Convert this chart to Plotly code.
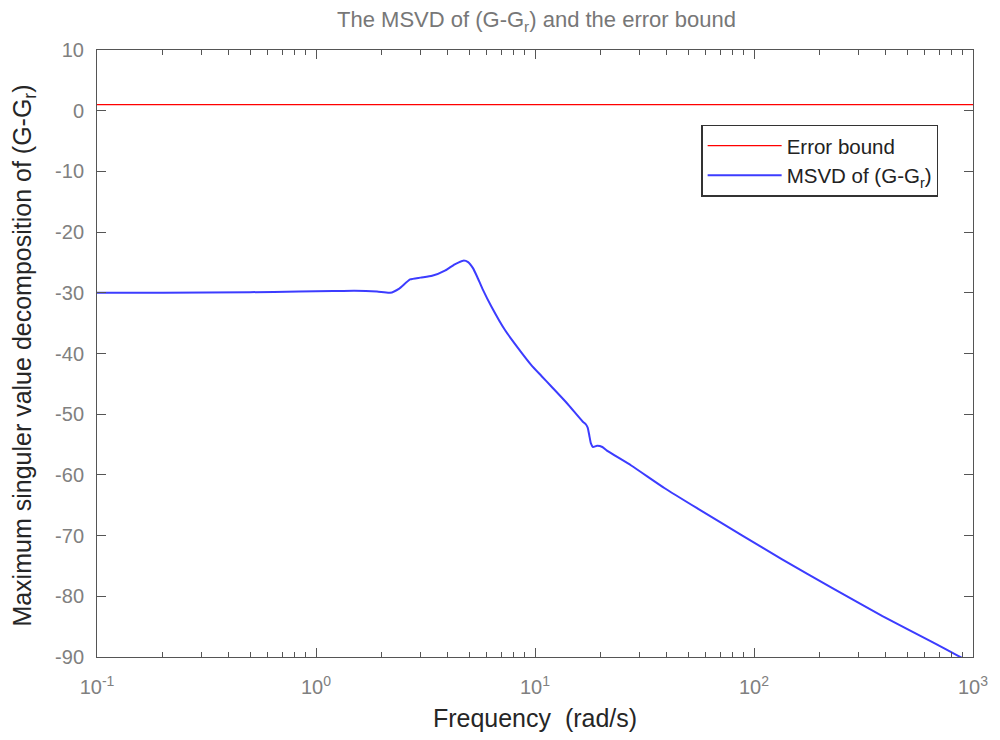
import plotly.graph_objects as go

freq = [0.1, 0.2, 0.5, 0.835, 1.2, 1.5, 1.9, 2.18, 2.4, 2.69, 3.0, 3.39, 3.9, 4.3,
        4.71, 4.95, 5.2, 5.45, 5.75, 6.33, 7.28, 8.37, 9.62, 10.7, 11.85, 14.0,
        16.5, 17.0, 17.4, 17.7, 18.0, 18.4, 19.2, 20.3, 21.3, 27.5, 39.1, 55.6,
        88.1, 134.4, 228, 386, 656, 855, 1000]
msvd_db = [-30.0, -30.0, -29.9, -29.8, -29.7, -29.65, -29.8, -30.0, -29.3, -27.8,
           -27.5, -27.2, -26.3, -25.3, -24.7, -24.95, -25.9, -27.4, -29.3, -32.3,
           -36.1, -39.1, -41.9, -43.7, -45.4, -48.2, -51.2, -51.6, -52.2, -53.5,
           -54.8, -55.4, -55.2, -55.4, -56.0, -58.45, -62.2, -65.6, -69.95, -73.9,
           -78.65, -83.25, -87.6, -89.8, -91.1]
bound_freq = [0.1, 1000]
bound_db = [1.0, 1.0]

x_tickvals = [0.1, 1, 10, 100, 1000]
x_ticktext = ["10<sup>-1</sup>", "10<sup>0</sup>", "10<sup>1</sup>", "10<sup>2</sup>", "10<sup>3</sup>"]
minor_vals = [m * d for d in [0.1, 1, 10, 100] for m in range(2, 10)]
y_tickvals = list(range(-90, 11, 10))
y_ticktext = [str(v) for v in y_tickvals]

fig = go.Figure()
fig.add_trace(go.Scatter(x=bound_freq, y=bound_db, mode="lines", name="Error bound",
                         line=dict(color="#ff0000", width=1.3)))
fig.add_trace(go.Scatter(x=freq, y=msvd_db, mode="lines", name="MSVD of (G-G<sub>r</sub>)",
                         line=dict(color="#3c3cff", width=2, shape="spline", smoothing=0.5)))

axis_color = "#555555"
fig.update_layout(
    width=1000, height=740,
    margin=dict(l=97, r=24, t=50, b=83),
    paper_bgcolor="white", plot_bgcolor="white",
    font=dict(family="Liberation Sans, Arial, sans-serif", color="#333333"),
    title=dict(text="The MSVD of (G-G<sub>r</sub>) and the error bound",
               x=0.5365, xanchor="center", y=0.974, yanchor="middle",
               font=dict(size=22, color="#777777")),
    showlegend=True,
    legend=dict(x=0.69, y=0.877, xanchor="left", yanchor="top",
                bgcolor="white", bordercolor="#333333", borderwidth=1.2,
                font=dict(size=20.5, color="#222222"), itemwidth=74,
                tracegroupgap=0),
    annotations=[dict(
        text="Maximum singuler value decomposition of (G-G<sub>r</sub>)",
        xref="paper", yref="paper", x=-0.083, y=0.497,
        xanchor="center", yanchor="middle", textangle=-90, showarrow=False,
        font=dict(size=25, color="#262626"))],
)
fig.update_xaxes(
    type="log", range=[-1, 3],
    tickmode="array", tickvals=x_tickvals, ticktext=x_ticktext,
    ticks="inside", ticklen=9, tickcolor=axis_color, tickwidth=1,
    minor=dict(tickmode="array", tickvals=minor_vals, ticks="inside", ticklen=5,
               tickcolor=axis_color, showgrid=False),
    showline=True, linecolor=axis_color, linewidth=1, mirror="ticks",
    showgrid=False, zeroline=False,
    tickfont=dict(size=20, color="#808080"), ticklabelstandoff=12,
    title=dict(text="Frequency\u00a0\u00a0(rad/s)", font=dict(size=25, color="#262626"), standoff=12),
)
fig.update_yaxes(
    range=[-90, 10],
    tickmode="array", tickvals=y_tickvals, ticktext=y_ticktext,
    ticks="inside", ticklen=9, tickcolor=axis_color, tickwidth=1,
    showline=True, linecolor=axis_color, linewidth=1, mirror="ticks",
    showgrid=False, zeroline=False,
    tickfont=dict(size=20, color="#808080"), ticklabelstandoff=8,
)

fig.write_html("out.html")
